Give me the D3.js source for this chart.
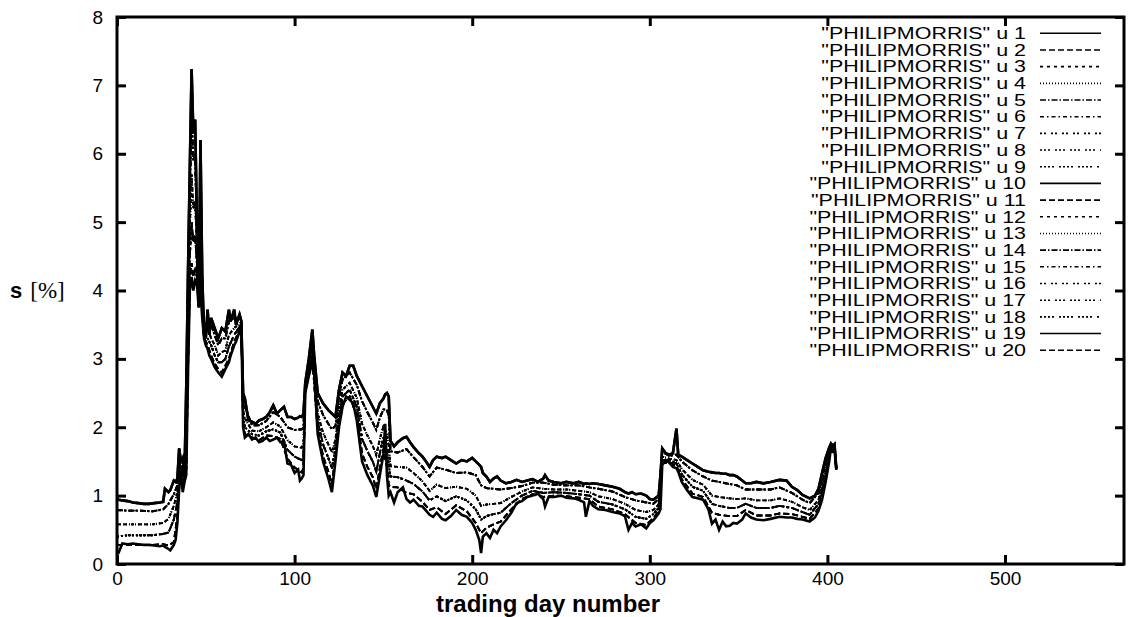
<!DOCTYPE html>
<html><head><meta charset="utf-8">
<script src="https://cdn.jsdelivr.net/npm/d3@7"></script>
<style>body{margin:0;background:#fff} svg{display:block}</style>
</head><body>
<svg id="chart" width="1128" height="617"></svg>
<script>
// ---- data ----
const days = [0,1,3,6,9,12,15,18,21,24,26,27,29,30,32,33,34,35,36,37,38,39,40,41,42,43,44,45,46,47,48,49,50,51,52,53,55,57,59,61,63,64,66,67,69,70,71,72,74,76,78,80,82,84,86,88,90,92,94,96,98,100,102,103,104,105,106,108,110,111,113,116,119,121,123,125,127,129,131,133,135,138,141,144,146,148,150,151,152,153,154,156,158,161,163,165,167,170,172,174,176,178,180,183,185,188,191,194,197,200,202,204,205,206,208,210,212,214,216,219,222,225,228,231,234,237,240,241,243,246,250,253,257,260,263,264,266,268,271,275,279,283,286,288,290,292,295,298,300,302,305,306,307,309,311,313,315,316,318,321,324,327,330,333,335,337,339,341,343,345,347,349,352,354,357,360,364,368,373,377,380,383,386,390,393,395,397,399,401,402,403,404,405];
const topCurve = [0.95,0.94,0.93,0.92,0.90,0.89,0.88,0.88,0.89,0.90,0.91,1.10,1.05,1.08,1.22,1.20,1.25,1.69,1.50,1.55,1.30,2.60,4.30,5.80,7.24,6.30,6.50,5.00,3.80,6.20,4.20,3.40,3.30,3.72,3.35,3.60,3.45,3.30,3.45,3.40,3.72,3.55,3.72,3.50,3.65,3.55,2.50,2.42,2.10,2.08,2.05,2.10,2.12,2.15,2.22,2.32,2.20,2.25,2.30,2.15,2.15,2.12,2.14,2.16,2.15,2.20,2.65,3.00,3.43,3.05,2.50,2.35,2.25,2.20,2.15,2.55,2.80,2.75,2.90,2.90,2.75,2.60,2.45,2.30,2.20,2.35,2.42,2.48,2.50,2.45,1.80,1.72,1.78,1.84,1.86,1.78,1.71,1.62,1.57,1.50,1.42,1.52,1.57,1.55,1.57,1.52,1.47,1.52,1.50,1.55,1.50,1.45,1.42,1.33,1.28,1.20,1.25,1.28,1.22,1.18,1.20,1.23,1.20,1.22,1.24,1.20,1.25,1.30,1.22,1.20,1.18,1.20,1.18,1.20,1.17,1.18,1.17,1.18,1.17,1.15,1.13,1.10,1.05,1.03,1.05,1.02,1.03,1.00,0.95,0.94,1.00,1.30,1.69,1.62,1.60,1.62,1.98,1.60,1.57,1.52,1.47,1.42,1.37,1.35,1.34,1.33,1.33,1.32,1.32,1.30,1.30,1.28,1.22,1.18,1.18,1.20,1.18,1.20,1.23,1.22,1.13,1.08,1.01,0.96,1.00,1.10,1.33,1.55,1.70,1.76,1.72,1.75,1.40];
const bottomCurve = [0.20,0.17,0.30,0.29,0.30,0.29,0.28,0.28,0.27,0.26,0.27,0.25,0.22,0.20,0.28,0.35,0.60,1.10,1.40,1.05,1.20,1.30,2.80,4.00,4.20,4.00,4.15,4.10,3.75,4.00,3.60,3.30,3.20,3.15,3.05,3.00,2.88,2.80,2.74,2.85,2.95,3.05,3.20,3.25,3.40,3.50,2.00,1.85,1.90,1.82,1.85,1.78,1.80,1.85,1.80,1.82,1.85,1.78,1.80,1.47,1.45,1.33,1.38,1.22,1.25,1.30,2.50,2.75,2.95,2.80,1.90,1.50,1.25,1.05,1.50,2.00,2.30,2.45,2.40,2.35,2.10,1.50,1.30,1.15,0.98,1.30,1.60,2.05,1.30,1.00,1.05,0.90,1.05,1.12,0.95,0.90,0.94,0.85,0.84,0.78,0.72,0.69,0.75,0.66,0.64,0.70,0.79,0.72,0.69,0.60,0.50,0.35,0.16,0.40,0.45,0.38,0.50,0.45,0.55,0.64,0.75,0.89,0.92,0.98,1.00,1.03,0.95,0.84,0.98,0.98,1.00,0.97,0.96,0.94,0.90,0.69,0.92,0.85,0.80,0.79,0.76,0.74,0.70,0.50,0.60,0.55,0.58,0.52,0.60,0.64,0.74,0.80,1.45,1.52,1.48,1.42,1.40,1.35,1.20,1.08,0.98,0.96,0.94,0.80,0.59,0.65,0.50,0.62,0.55,0.56,0.60,0.59,0.65,0.74,0.68,0.65,0.64,0.66,0.69,0.68,0.68,0.66,0.65,0.62,0.68,0.78,0.94,1.20,1.50,1.70,1.65,1.68,1.38];
const midDays = [0,6,13,20,26,29,32,34,35,36,37,38,39,40,41,42,43,44,45,46,47,48,49,51,53,55,57,59,61,63,66,69,70,71,72,76,80,84,88,92,96,100,104,105,106,110,113,116,119,121,123,125,127,131,135,138,141,144,146,148,150,152,153,154,158,163,167,172,176,180,185,191,197,202,205,208,212,216,222,228,234,240,246,253,260,266,271,279,286,292,298,302,305,307,311,315,318,324,330,335,339,345,349,354,360,368,373,380,386,390,395,399,402,404,405];
const mid1 = [0.79,0.78,0.78,0.77,0.80,0.88,1.02,1.15,1.50,1.47,1.45,1.28,2.3,4.0,5.4,6.6,5.9,6.0,4.8,3.79,5.8,4.1,3.38,3.6,3.5,3.35,3.2,3.3,3.3,3.55,3.6,3.6,3.54,2.4,2.3,2.03,2.03,2.09,2.22,2.15,2.0,1.96,1.97,2.0,2.62,3.33,2.38,2.18,2.05,1.97,2.02,2.44,2.7,2.8,2.62,2.38,2.22,2.07,1.96,2.14,2.26,2.26,2.16,1.65,1.63,1.68,1.56,1.42,1.28,1.41,1.38,1.33,1.34,1.3,1.15,1.11,1.1,1.09,1.11,1.14,1.19,1.19,1.16,1.15,1.15,1.12,1.10,1.06,0.98,0.93,0.9,0.88,0.95,1.64,1.58,1.6,1.5,1.37,1.28,1.22,1.2,1.17,1.15,1.09,1.09,1.09,1.12,1.04,0.94,0.89,1.04,1.48,1.75,1.74,1.4];
const mid2 = [0.58,0.58,0.58,0.58,0.60,0.66,0.85,1.05,1.40,1.45,1.30,1.25,2.0,3.6,4.9,5.7,5.2,5.3,4.6,3.78,5.1,3.9,3.35,3.45,3.3,3.2,3.05,3.1,3.12,3.35,3.45,3.52,3.53,2.25,2.13,1.95,1.94,2.0,2.07,2.01,1.81,1.72,1.7,1.75,2.58,3.2,2.2,1.92,1.75,1.63,1.82,2.28,2.55,2.65,2.43,2.05,1.88,1.73,1.59,1.83,2.01,1.9,1.73,1.43,1.42,1.41,1.33,1.21,1.07,1.16,1.11,1.13,1.1,1.0,0.85,0.87,0.88,0.89,0.98,1.06,1.12,1.1,1.09,1.09,1.07,1.05,0.99,0.95,0.88,0.79,0.76,0.79,0.87,1.57,1.54,1.52,1.39,1.23,1.16,1.0,0.98,0.96,0.95,0.96,0.93,0.93,0.96,0.91,0.83,0.79,0.94,1.38,1.73,1.72,1.39];
const mid3 = [0.40,0.42,0.42,0.42,0.44,0.46,0.65,0.90,1.25,1.43,1.20,1.23,1.7,3.2,4.5,5.0,4.7,4.8,4.4,3.77,4.6,3.8,3.33,3.3,3.2,3.05,2.95,2.95,3.0,3.18,3.35,3.47,3.52,2.15,2.0,1.9,1.88,1.94,1.97,1.92,1.67,1.57,1.52,1.55,2.55,3.1,2.08,1.75,1.55,1.4,1.7,2.17,2.45,2.55,2.3,1.83,1.65,1.5,1.35,1.62,1.85,1.66,1.44,1.28,1.27,1.22,1.17,1.06,0.93,0.99,0.92,0.99,0.93,0.8,0.65,0.70,0.73,0.75,0.89,1.0,1.07,1.04,1.05,1.04,1.02,1.0,0.91,0.87,0.8,0.69,0.66,0.73,0.82,1.52,1.52,1.47,1.31,1.13,1.07,0.88,0.85,0.82,0.82,0.88,0.82,0.82,0.85,0.82,0.76,0.72,0.88,1.31,1.72,1.71,1.39];
const mid4 = [0.28,0.28,0.28,0.28,0.29,0.27,0.32,0.70,1.12,1.41,1.10,1.21,1.4,2.9,4.1,4.4,4.2,4.3,4.2,3.76,4.2,3.65,3.31,3.2,3.05,2.93,2.85,2.8,2.9,3.0,3.25,3.42,3.51,2.05,1.9,1.85,1.81,1.88,1.87,1.83,1.54,1.41,1.34,1.4,2.52,3.0,1.96,1.58,1.35,1.17,1.57,2.06,2.35,2.45,2.17,1.61,1.42,1.27,1.1,1.4,1.68,1.42,1.15,1.13,1.12,1.04,1.02,0.91,0.79,0.83,0.73,0.86,0.77,0.6,0.45,0.53,0.58,0.62,0.8,0.95,1.02,0.98,1.0,0.99,0.97,0.95,0.84,0.8,0.73,0.6,0.57,0.67,0.77,1.47,1.49,1.43,1.24,1.03,0.98,0.75,0.72,0.7,0.7,0.79,0.71,0.71,0.74,0.73,0.69,0.66,0.81,1.24,1.71,1.69,1.38];
const seriesLabels = ['"PHILIPMORRIS" u 1','"PHILIPMORRIS" u 2','"PHILIPMORRIS" u 3','"PHILIPMORRIS" u 4','"PHILIPMORRIS" u 5','"PHILIPMORRIS" u 6','"PHILIPMORRIS" u 7','"PHILIPMORRIS" u 8','"PHILIPMORRIS" u 9','"PHILIPMORRIS" u 10','"PHILIPMORRIS" u 11','"PHILIPMORRIS" u 12','"PHILIPMORRIS" u 13','"PHILIPMORRIS" u 14','"PHILIPMORRIS" u 15','"PHILIPMORRIS" u 16','"PHILIPMORRIS" u 17','"PHILIPMORRIS" u 18','"PHILIPMORRIS" u 19','"PHILIPMORRIS" u 20'];
// which drawn curve each series follows (0 top .. 5 bottom)
const seriesCurve = [0,4,2,2,1,1,3,3,3,0,4,2,2,1,1,3,3,3,5,4];
const xTicks = [0,100,200,300,400,500];
const yTicks = [0,1,2,3,4,5,6,7,8];
const xLabel = 'trading day number';

// ---- styles ----
const dashes = [null,'6,3','3,4','1,2','6,2,1.5,2','4,3,1.5,3','2,2,2,5','2,2,2,2,2,5','2,2,2,2,2,2,2,5'];
const W = 1128, H = 617;
const L = 117, R = 1124, T = 17, B = 564;
const svg = d3.select('#chart');
const x = d3.scaleLinear().domain([0,567]).range([L,R]);
const y = d3.scaleLinear().domain([0,8]).range([B,T]);
const font = '"Liberation Sans", Arial, Helvetica, sans-serif';

const curves = [
  {x: days, y: topCurve},
  {x: midDays, y: mid1},
  {x: midDays, y: mid2},
  {x: midDays, y: mid3},
  {x: midDays, y: mid4},
  {x: days, y: bottomCurve}
];

svg.append('clipPath').attr('id','clip').append('rect')
  .attr('x',L).attr('y',T).attr('width',R-L).attr('height',B-T);

const line = d3.line().x(d=>x(d[0])).y(d=>y(d[1]));
const plot = svg.append('g').attr('clip-path','url(#clip)');
seriesLabels.forEach((lab,i)=>{
  const c = curves[seriesCurve[i]];
  const pts = c.x.map((d,j)=>[d,c.y[j]]);
  const solid = dashes[i%9] === null;
  plot.append('path').attr('d', line(pts))
    .attr('fill','none').attr('stroke','#000')
    .attr('stroke-width', solid ? 2.6 : 1.9)
    .attr('stroke-linejoin','miter')
    .attr('stroke-dasharray', dashes[i%9]);
});

// axes with inward ticks
function styleAxis(g){
  g.select('.domain').remove();
  g.selectAll('.tick line').attr('stroke','#000').attr('stroke-width',3);
  g.selectAll('.tick text').attr('font-family',font).attr('font-size',19).attr('fill','#000');
}
svg.append('g').attr('transform',`translate(0,${B})`)
  .call(d3.axisBottom(x).tickValues(xTicks).tickSize(-9).tickPadding(8)).call(styleAxis);
svg.append('g').attr('transform',`translate(0,${T})`)
  .call(d3.axisTop(x).tickValues(xTicks).tickSize(-9).tickFormat('')).call(styleAxis);
svg.append('g').attr('transform',`translate(${L},0)`)
  .call(d3.axisLeft(y).tickValues(yTicks).tickSize(-9).tickPadding(14)).call(styleAxis);
svg.append('g').attr('transform',`translate(${R},0)`)
  .call(d3.axisRight(y).tickValues(yTicks).tickSize(-9).tickFormat('')).call(styleAxis);

svg.append('rect').attr('x',L).attr('y',T).attr('width',R-L).attr('height',B-T)
  .attr('fill','none').attr('stroke','#000').attr('stroke-width',3);

// legend
seriesLabels.forEach((lab,i)=>{
  const ly = 33.3 + i*16.68;
  svg.append('text').attr('transform',`translate(1026,${ly}) scale(1.3,1)`)
    .attr('text-anchor','end').attr('dy','0.35em')
    .attr('font-family',font).attr('font-size',16.5).text(lab);
  svg.append('line').attr('x1',1040).attr('x2',1101).attr('y1',ly).attr('y2',ly)
    .attr('stroke','#000').attr('stroke-width',1.6).attr('stroke-dasharray',dashes[i%9]);
});

// axis titles
svg.append('text').attr('x',548).attr('y',612).attr('text-anchor','middle')
  .attr('font-family',font).attr('font-weight','bold').attr('font-size',24).text(xLabel);
const yl = svg.append('text').attr('x',10).attr('y',298);
yl.append('tspan').attr('font-family',font).attr('font-weight','bold').attr('font-size',22).text('s');
yl.append('tspan').attr('dx',8).attr('font-family','"Liberation Serif", "DejaVu Serif", serif').attr('font-size',23).text('[%]');
</script>
</body></html>
